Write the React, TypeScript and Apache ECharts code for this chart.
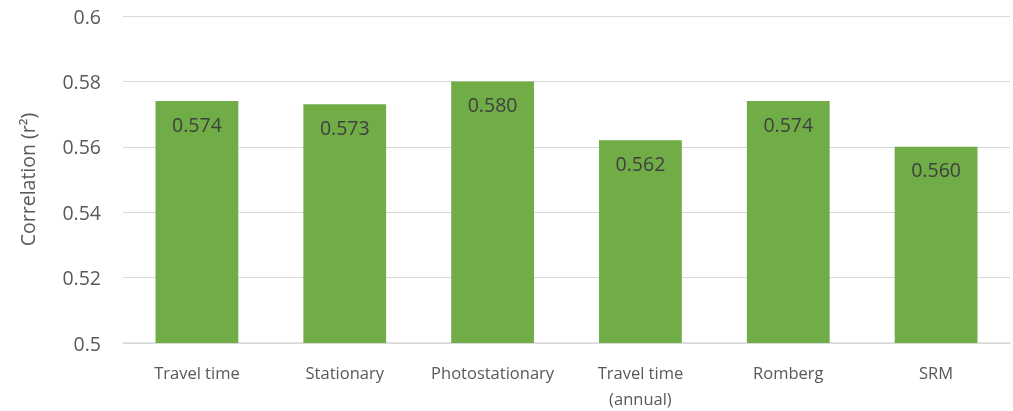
import React, { useEffect, useRef } from "react";
import * as echarts from "echarts";

const categories = ["Travel time", "Stationary", "Photostationary", "Travel time\n(annual)", "Romberg", "SRM"];
const values = [0.574, 0.573, 0.58, 0.562, 0.574, 0.56];
const yTicks = { min: 0.5, max: 0.6, interval: 0.02 };

export default function App() {
  const ref = useRef<HTMLDivElement>(null);
  useEffect(() => {
    const chart = echarts.init(ref.current!, null, { renderer: "svg" });
    const font = "'Open Sans', 'Noto Sans', sans-serif";
    chart.setOption({
      animation: false,
      grid: { left: 123, right: 3, top: 16, bottom: 62 },
      xAxis: {
        type: "category",
        data: categories,
        axisLine: { lineStyle: { color: "#D9D9D9", width: 1.5 } },
        axisTick: { show: false },
        axisLabel: { color: "#595959", fontSize: 16.5, fontFamily: font, margin: 16, lineHeight: 26, interval: 0 },
      },
      yAxis: {
        type: "value",
        min: yTicks.min,
        max: yTicks.max,
        interval: yTicks.interval,
        name: "Correlation (r²)",
        nameLocation: "middle",
        nameGap: 86,
        nameTextStyle: { color: "#595959", fontSize: 19.5, fontFamily: font },
        axisLine: { show: false },
        axisTick: { show: false },
        splitLine: { lineStyle: { color: "#D9D9D9", width: 1 } },
        axisLabel: {
          color: "#595959",
          fontSize: 19.5,
          fontFamily: font,
          margin: 22,
          formatter: (v: number) => String(parseFloat(v.toFixed(2))),
        },
      },
      series: [
        {
          type: "bar",
          data: values,
          barCategoryGap: "44%",
          itemStyle: { color: "#70AD47" },
          label: {
            show: true,
            position: "insideTop",
            distance: 13,
            color: "#404040",
            fontSize: 19.5,
            fontFamily: font,
            formatter: (p: any) => p.value.toFixed(3),
          },
        },
      ],
    });
    return () => chart.dispose();
  }, []);
  return <div ref={ref} style={{ position: "fixed", left: 0, top: 0, width: 1013, height: 411 }} />;
}
